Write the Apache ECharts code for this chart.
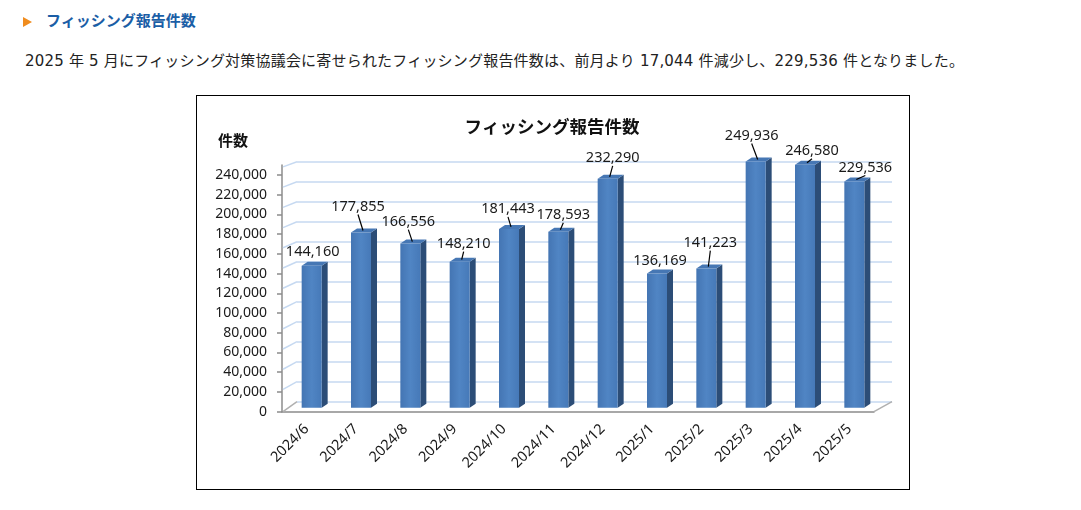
<!DOCTYPE html>
<html>
<head>
<meta charset="utf-8">
<script src="https://cdn.jsdelivr.net/npm/echarts@6/dist/echarts.min.js"></script>
<style>
  body { margin: 0; background: #fff; width: 1081px; height: 510px; position: relative; overflow: hidden;
         font-family: "DejaVu Sans", "Noto Sans CJK JP", sans-serif; }
  .head { position: absolute; left: 23px; top: 10px; height: 20px; line-height: 20px; }
  .head .mark { display: inline-block; width: 0; height: 0; border-left: 9px solid #f08c1e;
                border-top: 5.5px solid transparent; border-bottom: 5.5px solid transparent; vertical-align: -1px; }
  .head .txt { margin-left: 14px; font-family: "Noto Sans CJK JP", sans-serif; font-weight: bold;
               font-size: 15px; color: #1b5ea6; }
  .lead { position: absolute; left: 25px; top: 51px; font-size: 15px; line-height: 20px; color: #222;
          white-space: nowrap; letter-spacing: 0.2px; }
  #chart { position: absolute; left: 196px; top: 95px; width: 714px; height: 395px;
           border: 1px solid #000; box-sizing: border-box; }
</style>
</head>
<body>
<div class="head"><span class="mark"></span><span class="txt">フィッシング報告件数</span></div>
<div class="lead">2025 年 5 月にフィッシング対策協議会に寄せられたフィッシング報告件数は、前月より 17,044 件減少し、229,536 件となりました。</div>
<div id="chart"></div>
<script>
// データ
const months = ['2024/6', '2024/7', '2024/8', '2024/9', '2024/10', '2024/11',
                '2024/12', '2025/1', '2025/2', '2025/3', '2025/4', '2025/5'];
const reports = [144160, 177855, 166556, 148210, 181443, 178593,
                 232290, 136169, 141223, 249936, 246580, 229536];
const yTicks = [0, 20000, 40000, 60000, 80000, 100000, 120000,
                140000, 160000, 180000, 200000, 220000, 240000];
// ラベルのずらし [dx, 上へ]
const labelNudge = [[1, 14], [-3, 26], [-2, 22], [4, 18], [-1, 20], [5, 17],
                    [5, 21], [3, 13], [4, 26], [-4, 26], [7, 14], [11, 14]];

const FONT = '"Noto Sans", "Noto Sans CJK JP", sans-serif';
const wallColor = '#c6d9f1';
const axisGray = '#8c8c8c';

const chart = echarts.init(document.getElementById('chart'));

function renderBar(params, api) {
    const i = api.value(0);
    const v = api.value(1);
    const top = api.coord([i, v]);
    const base = api.coord([i, 0]);
    const w = 20, dx = 6, dy = 4;
    const x0 = top[0] - w / 2, x1 = top[0] + w / 2;
    const nudge = labelNudge[i];
    const lx = top[0] + nudge[0], ly = top[1] - nudge[1];
    const children = [
        {
            type: 'polygon',
            shape: { points: [[x1, top[1]], [x1 + dx, top[1] - dy], [x1 + dx, base[1] - dy], [x1, base[1]]] },
            style: { fill: '#2c4d77' }
        },
        {
            type: 'polygon',
            shape: { points: [[x0, top[1]], [x0 + dx, top[1] - dy], [x1 + dx, top[1] - dy], [x1, top[1]]] },
            style: { fill: '#4677b4' }
        },
        {
            type: 'rect',
            shape: { x: x0, y: top[1], width: w, height: base[1] - top[1] },
            style: {
                fill: new echarts.graphic.LinearGradient(0, 0, 1, 0, [
                    { offset: 0, color: '#4475b3' },
                    { offset: 0.5, color: '#5085c4' },
                    { offset: 1, color: '#4679b8' }
                ])
            }
        },
        {
            type: 'text',
            x: lx, y: ly,
            style: {
                text: v.toLocaleString('en-US'),
                font: '14.5px ' + FONT,
                fill: '#1a1a1a',
                align: 'center',
                verticalAlign: 'middle'
            }
        }
    ];
    // 引き出し線
    if (nudge[1] >= 16 || Math.abs(nudge[0]) > 6) {
        children.push({
            type: 'line',
            shape: { x1: lx, y1: ly + 8, x2: top[0] + 2, y2: top[1] - 2 },
            style: { stroke: '#000', lineWidth: 1.2 }
        });
    }
    return { type: 'group', children: children };
}

chart.setOption({
    animation: false,
    textStyle: { fontFamily: FONT },
    grid: [
        { left: 85, top: 69, width: 592, height: 246.7 },    // 手前の軸
        { left: 90, top: 65.4, width: 592, height: 246.3 },  // 棒
        { left: 100, top: 65.7, width: 595, height: 240 }    // 奥の壁
    ],
    xAxis: [
        {
            gridIndex: 0, type: 'category', data: months,
            axisLine: { lineStyle: { color: axisGray, width: 1.5 } },
            axisTick: { length: 5, lineStyle: { color: axisGray, width: 1.5 } },
            axisLabel: { rotate: 45, margin: 15, fontSize: 14.5, color: '#1a1a1a', fontFamily: FONT }
        },
        { gridIndex: 1, type: 'category', data: months, show: false },
        { gridIndex: 2, type: 'category', data: months, show: false }
    ],
    yAxis: [
        {
            gridIndex: 0, type: 'value', min: 0, max: 250000,
            axisLine: { show: true, lineStyle: { color: axisGray, width: 1.5 } },
            axisTick: { show: true, length: 5, customValues: yTicks, lineStyle: { color: axisGray, width: 1.5 } },
            axisLabel: {
                customValues: yTicks, margin: 15, fontSize: 14, color: '#1a1a1a', fontFamily: FONT,
                formatter: v => v.toLocaleString('en-US')
            },
            splitLine: { show: false }
        },
        { gridIndex: 1, type: 'value', min: 0, max: 250000, show: false },
        {
            gridIndex: 2, type: 'value', min: 0, max: 240000, interval: 20000,
            axisLine: { show: false }, axisTick: { show: false }, axisLabel: { show: false },
            splitLine: { lineStyle: { color: wallColor, width: 1.5 } }
        }
    ],
    graphic: [
        {
            type: 'text', x: 355, y: 30,
            style: { text: 'フィッシング報告件数', font: 'bold 17.5px "Noto Sans CJK JP"', fill: '#111',
                     align: 'center', verticalAlign: 'middle' }
        },
        {
            type: 'text', x: 21, y: 44,
            style: { text: '件数', font: 'bold 15px "Noto Sans CJK JP"', fill: '#111', verticalAlign: 'middle' }
        }
    ],
    series: [{
        type: 'custom',
        xAxisIndex: 1, yAxisIndex: 1,
        data: reports.map((v, i) => [i, v]),
        renderItem: renderBar,
        z: 5
    }]
});

// 左の壁と床の斜線
const wallLines = yTicks.map(v => {
    const yf = chart.convertToPixel({ yAxisIndex: 0 }, v);
    const yb = chart.convertToPixel({ yAxisIndex: 2 }, v);
    return {
        type: 'line', z: 1,
        shape: { x1: 86, y1: yf - (v === 0 ? 0 : 2 + v / 40000), x2: 100, y2: yb },
        style: { stroke: v === 0 ? '#b0b0b0' : wallColor, lineWidth: 1.5 }
    };
});
const yf0 = chart.convertToPixel({ yAxisIndex: 0 }, 0);
const yb0 = chart.convertToPixel({ yAxisIndex: 2 }, 0);
wallLines.push({
    type: 'line', z: 1,
    shape: { x1: 677, y1: yf0, x2: 695, y2: yb0 },
    style: { stroke: '#b0b0b0', lineWidth: 1.5 }
});
chart.setOption({ graphic: chart.getOption().graphic[0].elements.concat(wallLines) });
</script>
</body>
</html>
